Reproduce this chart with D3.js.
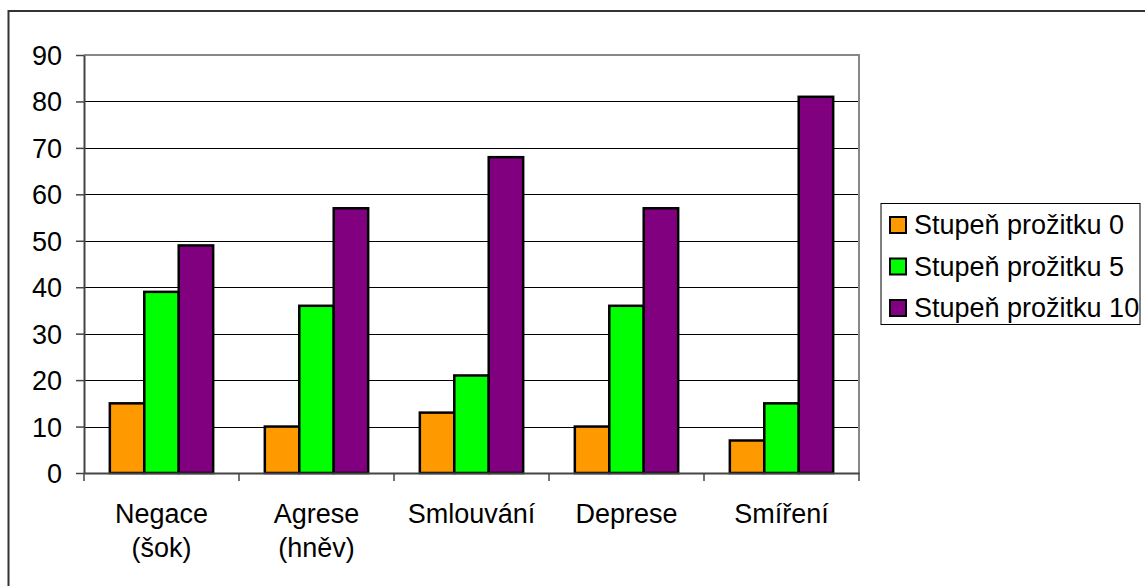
<!DOCTYPE html>
<html><head><meta charset="utf-8">
<script src="https://cdn.jsdelivr.net/npm/d3@7"></script>
<style>
html,body{margin:0;padding:0;background:#fff;}
svg{display:block;font-family:"Liberation Sans",Arial,sans-serif;}
</style></head>
<body>
<svg id="chart" width="1145" height="586"></svg>
<script>
const categories = [["Negace","(šok)"],["Agrese","(hněv)"],["Smlouvání"],["Deprese"],["Smíření"]];
const seriesNames = ["Stupeň prožitku 0","Stupeň prožitku 5","Stupeň prožitku 10"];
const series0 = [15,10,13,10,7];
const series5 = [39,36,21,36,15];
const series10 = [49,57,68,57,81];
const yTicks = [0,10,20,30,40,50,60,70,80,90];
const colors = ["#FF9900","#00FF00","#800080"];

(function(){
const seriesValues = [series0, series5, series10];
const svg = d3.select("#chart");
const W = 1145, H = 586;
const pLeft = 84, pRight = 859, pTop = 55, pBottom = 473;
const fontSize = 27;
const ff = "Liberation Sans, Arial, sans-serif";

// outer border
svg.append("rect").attr("x",8.5).attr("y",11).attr("width",W+20).attr("height",H+20)
  .attr("fill","#fff").attr("stroke","#333").attr("stroke-width",2);

const catKeys = categories.map(c => c.join(" "));
const x = d3.scaleBand().domain(catKeys).range([pLeft,pRight]).paddingInner(0).paddingOuter(0);
const bw = x.bandwidth();
const barW = bw/4.5;
const xs = d3.scaleBand().domain(seriesNames).range([0.75*barW, 3.75*barW]).padding(0);
const y = d3.scaleLinear().domain([0,90]).range([pBottom, pTop]);

// gridlines
svg.append("g").selectAll("line").data(yTicks.filter(t=>t>0 && t<90)).join("line")
  .attr("x1",pLeft).attr("x2",pRight)
  .attr("y1",d=>Math.round(y(d))+0.5).attr("y2",d=>Math.round(y(d))+0.5)
  .attr("stroke","#000").attr("stroke-width",1);

// plot border top/right
svg.append("path")
  .attr("d",`M${pLeft},${pTop} H${pRight} V${pBottom}`)
  .attr("fill","none").attr("stroke","#888").attr("stroke-width",2);

// bars
const groups = svg.append("g").selectAll("g").data(catKeys).join("g")
  .attr("transform",d=>`translate(${x(d)},0)`);
groups.selectAll("rect").data((d,i)=>seriesNames.map((s,j)=>({s, v: seriesValues[j][i], c: colors[j]}))).join("rect")
  .attr("x",d=>xs(d.s)).attr("width",xs.bandwidth())
  .attr("y",d=>y(d.v)).attr("height",d=>y(0)-y(d.v))
  .attr("fill",d=>d.c).attr("stroke","#000").attr("stroke-width",2.5);

// y axis
const yAxis = svg.append("g").attr("transform",`translate(${pLeft},0)`)
  .call(d3.axisLeft(y).tickValues(yTicks).tickSize(8).tickPadding(14).tickSizeOuter(0));
yAxis.attr("font-family",ff);
yAxis.select(".domain").attr("stroke","#444").attr("stroke-width",2);
yAxis.selectAll(".tick line").attr("stroke","#444").attr("stroke-width",1.5);
yAxis.selectAll(".tick text").attr("font-size",fontSize).attr("font-family",ff).attr("fill","#000").attr("dy","0.35em");

// x axis
const xAxis = svg.append("g").attr("transform",`translate(0,${pBottom})`)
  .call(d3.axisBottom(x).tickSize(0).tickFormat(""));
xAxis.select(".domain").attr("stroke","#444").attr("stroke-width",2);
const bounds = d3.range(catKeys.length+1).map(i => pLeft + i*bw);
xAxis.selectAll(".bt").data(bounds).join("line").attr("class","bt")
  .attr("x1",d=>d).attr("x2",d=>d).attr("y1",0).attr("y2",8)
  .attr("stroke","#444").attr("stroke-width",1.5);

// category labels
const lab = svg.append("g").selectAll("text").data(categories).join("text")
  .attr("x",(d,i)=>x(catKeys[i])+bw/2).attr("y",523)
  .attr("text-anchor","middle").attr("font-size",fontSize).attr("font-family",ff).attr("fill","#000");
lab.selectAll("tspan").data(d=>d).join("tspan")
  .attr("x",function(){return this.parentNode.getAttribute("x");})
  .attr("dy",(d,i)=>i===0?0:34).text(d=>d);

// legend
const lg = svg.append("g");
lg.append("rect").attr("x",881).attr("y",203.5).attr("width",259).attr("height",121)
  .attr("fill","#fff").attr("stroke","#000").attr("stroke-width",1);
const rows = lg.selectAll("g").data(seriesNames).join("g")
  .attr("transform",(d,i)=>`translate(0,${i*41.5})`);
rows.append("rect").attr("x",890).attr("y",217).attr("width",16).attr("height",16)
  .attr("fill",(d,i)=>colors[i]).attr("stroke","#000").attr("stroke-width",2);
rows.append("text").attr("x",914).attr("y",234).attr("font-size",fontSize).attr("font-family",ff).attr("fill","#000").text(d=>d);
})();
</script>
</body></html>
